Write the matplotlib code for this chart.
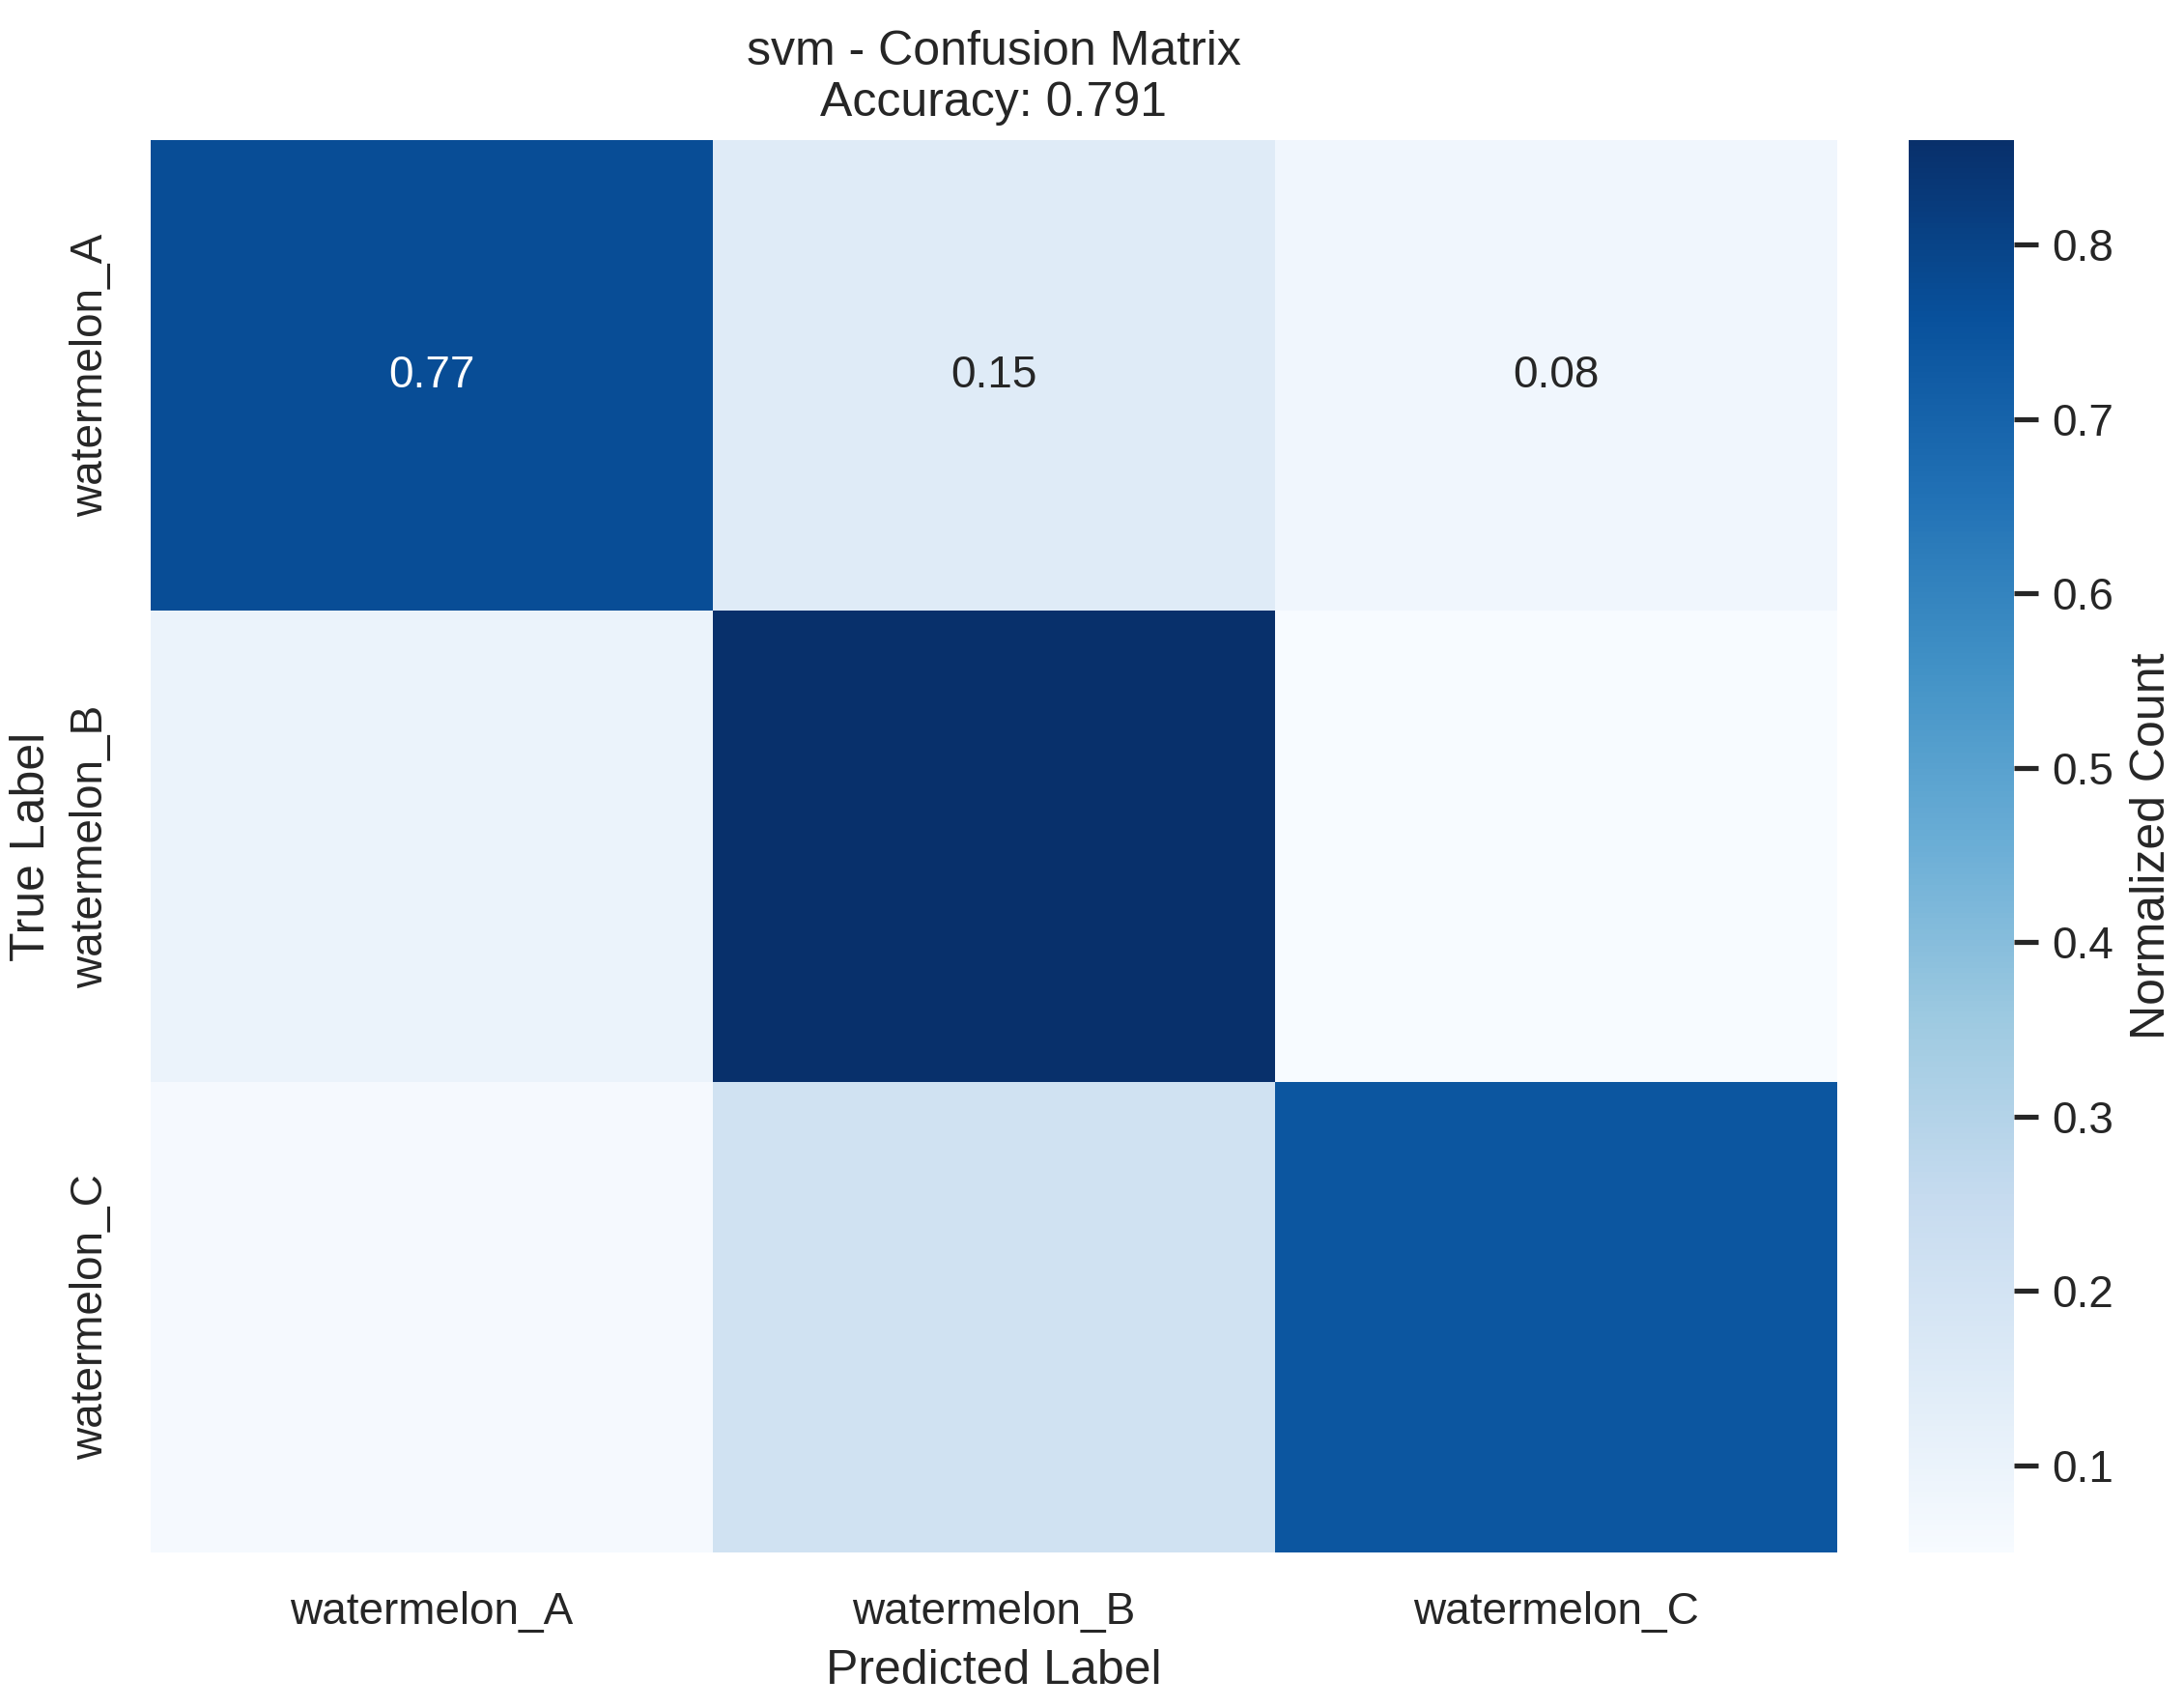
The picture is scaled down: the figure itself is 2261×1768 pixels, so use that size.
import numpy as np
import matplotlib
matplotlib.use("Agg")
import matplotlib.pyplot as plt
import seaborn as sns

classes = ["watermelon_A", "watermelon_B", "watermelon_C"]
row_a = [0.77, 0.15, 0.08]
row_b = [0.10, 0.86, 0.05]
row_c = [0.06, 0.21, 0.74]
accuracy = 0.791
model_name = "svm"

cm = np.array([row_a, row_b, row_c])

sns.set_theme(style="white")
plt.rcParams['font.family'] = ['Liberation Sans', 'DejaVu Sans']

fig = plt.figure(figsize=(2261 / 300, 1768 / 300), dpi=300)
ax = fig.add_axes([0.069, 0.091, 0.772, 0.827])
cax = fig.add_axes([0.874, 0.091, 0.048, 0.827])

sns.heatmap(cm, cmap="Blues", annot=False, ax=ax, cbar_ax=cax,
            xticklabels=classes, yticklabels=classes,
            cbar_kws={"label": "Normalized Count"})

# only the first row carries annotations in the original
for j, v in enumerate(row_a):
    color = "white" if v > 0.5 else "#262626"
    ax.text(j + 0.5, 0.5, f"{v:.2f}", ha="center", va="center",
            color=color, fontsize=11)

ax.set_title(f"{model_name} - Confusion Matrix\nAccuracy: {accuracy:.3f}", fontsize=12)
ax.set_xlabel("Predicted Label", fontsize=12)
ax.set_ylabel("True Label", fontsize=12)
ax.tick_params(axis="y", rotation=90)
for lbl in ax.get_yticklabels():
    lbl.set_va("center")

fig.savefig("out.png", dpi=300)
